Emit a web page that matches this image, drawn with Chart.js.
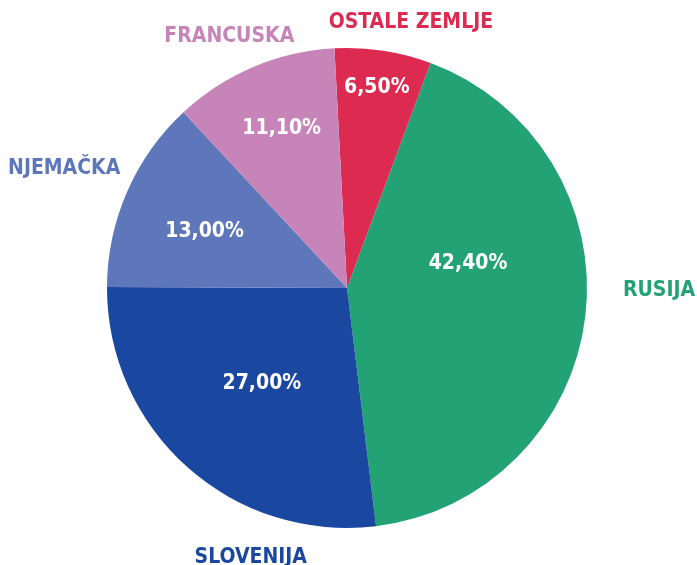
<!DOCTYPE html>
<html lang="hr">
<head>
    <meta charset="UTF-8">
    <title>Izvoz po zemljama</title>
    <script src="https://cdn.jsdelivr.net/npm/chart.js"></script>
    <style>
        * {
            padding: 0;
            margin: 0;
        }
        body {
            background-color: #ffffff;
        }
        .chart-container {
            position: relative;
            width: 697px;
            height: 565px;
        }
    </style>
</head>
<body>
    <div class="chart-container">
        <canvas id="myChart"></canvas>
    </div>
    <script>
        // data
        const countries = ['OSTALE ZEMLJE', 'RUSIJA', 'SLOVENIJA', 'NJEMAČKA', 'FRANCUSKA'];
        const shares = [6.5, 42.4, 27.0, 13.0, 11.1];

        const sliceColors = ['#dc2a50', '#23a275', '#1a479f', '#5e77ba', '#c684b9'];

        // label placement: angle from top (deg, clockwise) and distance as part of radius
        const outerLabelPos = [[13.5, 1.14], [90.2, 1.30], [199.7, 1.19], [293, 1.28], [335, 1.16]];
        const innerLabelPos = [[8.4, 0.85], [78.3, 0.515], [222, 0.53], [292, 0.64], [337.8, 0.72]];

        const labelFont = "bold 21px 'DejaVu Sans Condensed', 'DejaVu Sans', sans-serif";

        function formatPercent(v) {
            return v.toFixed(2).replace('.', ',') + '%';
        }

        const pieLabels = {
            id: 'pieLabels',
            afterDraw(chart) {
                const ctx = chart.ctx;
                const arcs = chart.getDatasetMeta(0).data;
                if (!arcs.length) return;
                const cx = arcs[0].x;
                const cy = arcs[0].y;
                const r = arcs[0].outerRadius;

                function place(pos) {
                    const a = pos[0] * Math.PI / 180;
                    return [cx + Math.sin(a) * r * pos[1], cy - Math.cos(a) * r * pos[1]];
                }

                ctx.save();
                ctx.font = labelFont;
                ctx.textAlign = 'center';
                ctx.textBaseline = 'middle';
                shares.forEach((v, i) => {
                    const p = place(innerLabelPos[i]);
                    ctx.fillStyle = '#ffffff';
                    ctx.fillText(formatPercent(v), p[0], p[1] + 1);

                    const q = place(outerLabelPos[i]);
                    ctx.fillStyle = sliceColors[i];
                    ctx.fillText(countries[i], q[0], q[1] + 1);
                });
                ctx.restore();
            }
        };

        const ctx = document.getElementById('myChart').getContext('2d');
        new Chart(ctx, {
            type: 'pie',
            data: {
                labels: countries,
                datasets: [{
                    data: shares,
                    backgroundColor: sliceColors,
                    borderWidth: 0
                }]
            },
            options: {
                responsive: true,
                maintainAspectRatio: false,
                animation: false,
                rotation: -3,
                layout: {
                    padding: { left: 107, right: 110, top: 48, bottom: 37 }
                },
                plugins: {
                    legend: { display: false },
                    tooltip: { enabled: false }
                }
            },
            plugins: [pieLabels]
        });
    </script>
</body>
</html>
